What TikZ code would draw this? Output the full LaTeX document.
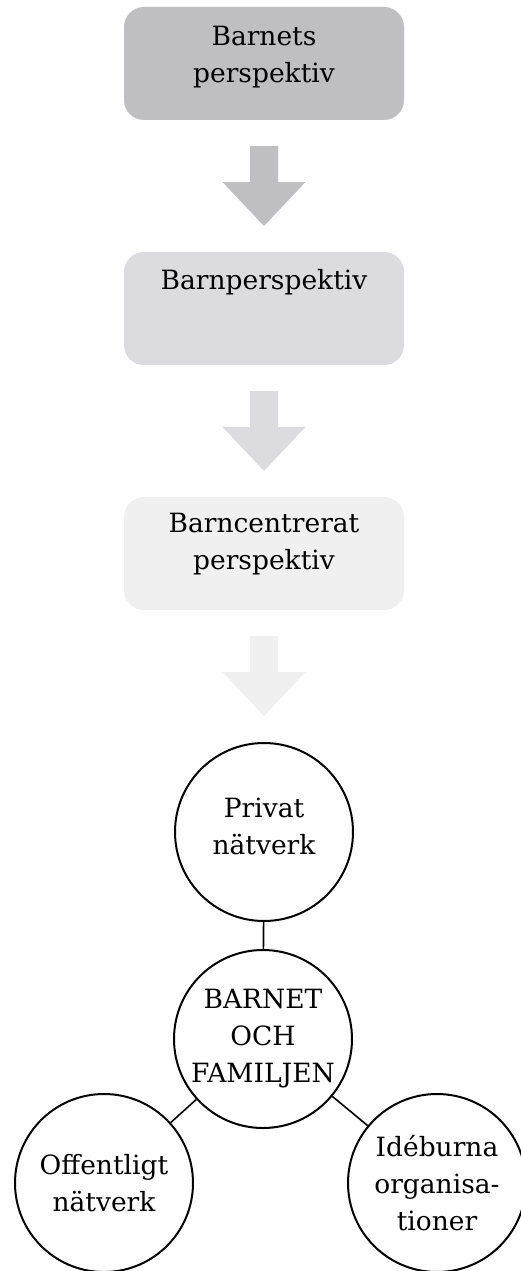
\documentclass[tikz,border=0pt]{standalone}
\usepackage{fontspec}
\setmainfont{DejaVu Serif}
\usepackage{tikz}
\usetikzlibrary{positioning}
\definecolor{xdark}{HTML}{BFBFC1}
\definecolor{xmid}{HTML}{DCDCDE}
\definecolor{xlight}{HTML}{F0F0F0}
\tikzset{
  stage/.style = {rounded corners=20pt, fill=#1, minimum width=280pt, minimum height=113pt, inner sep=0pt},
  stagetext/.style = {anchor=north, align=center, inner sep=0pt, font=\fontsize{26.5}{37}\selectfont},
  ring/.style = {circle, draw=black, line width=2pt, minimum size=178pt, inner sep=0pt, align=center, font=\fontsize{26.5}{37}\selectfont},
  ringtext/.style = {align=center, inner sep=0pt, font=\fontsize{26.5}{37}\selectfont},
  link/.style = {line width=1.6pt},
  pics/downarrow/.style = { code={ \fill[#1] (-14,0) -- (14,0) -- (14,36) -- (41.5,36) -- (0,80) -- (-41.5,36) -- (-14,36) -- cycle; }},
}

\begin{document}
\begin{tikzpicture}[x=1pt, y=-1pt]
  \useasboundingbox (0,0) rectangle (520,1271);
  \node[stage=xdark]  (barnets)      at (264,63.5)  {};
  \node[stage=xmid]   (barnpersp)    at (264,308.5) {};
  \node[stage=xlight] (barncentr)    at (264,553.5) {};
  \node[stagetext, below=19pt of barnets.north]   (barnetstext)   {Barnets\\perspektiv};
  \node[stagetext, below=17pt of barnpersp.north] (barnpersptext) {Barnperspektiv};
  \node[stagetext, below=16pt of barncentr.north] (barncentrtext) {Barncentrerat\\perspektiv};
  \pic at (264,146) {downarrow=xdark};
  \pic at (264,391) {downarrow=xmid};
  \pic at (264,636) {downarrow=xlight};
  % circles
  \node[ring] (privat) at (264,832) {};
  \node[ringtext] (privattext) at ([yshift=6pt]privat.center) {Privat\\nätverk};
  \node[ring] (barnet)     at (263,1039) {BARNET\\OCH\\FAMILJEN};
  \node[ring] (offentligt) at (104,1183) {Offentligt\\nätverk};
  \node[ring] (ideburna)   at (437,1183) {Idéburna\\organisa-\\tioner};
  \draw[link] (privat) -- (barnet);
  \draw[link] (barnet) -- (offentligt);
  \draw[link] (barnet) -- (ideburna);
\end{tikzpicture}
\end{document}
